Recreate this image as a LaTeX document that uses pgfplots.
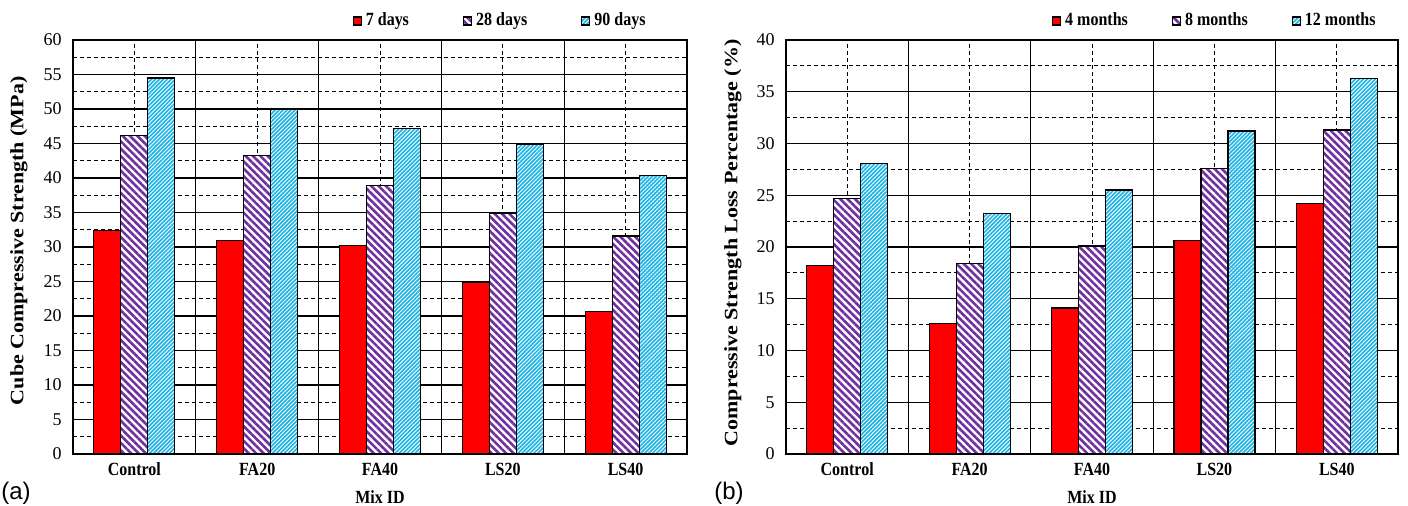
\documentclass[border=0pt]{standalone}
\usepackage{pgfplots}
\pgfplotsset{compat=1.18}
\usepackage{graphicx}
\usepackage{fontspec}
\usetikzlibrary{patterns.meta}
\setmainfont{Liberation Serif}
\newfontfamily\condfont{Liberation Serif}[FakeStretch=0.86]
\newfontfamily\numfont{Liberation Serif}
\newfontfamily\sansfont{Liberation Sans}
\definecolor{barred}{RGB}{255,0,0}
\definecolor{barpurple}{RGB}{112,48,160}
\definecolor{barcyan}{RGB}{30,180,230}
\pgfplotsset{
  sqlegend/.style={legend image code/.code={\draw[##1,/tikz/.cd] (0pt,-2pt) rectangle (4pt,2pt);}},
  mybase/.style={
    scale only axis, width=307pt, height=207pt,
    ybar=0pt, bar width=13.5pt,
    xmin=-0.5, xmax=4.5, ymin=0,
    xtick={0,1,2,3,4},
    xticklabels={Control,FA20,FA40,LS20,LS40},
    minor xtick={-0.5,0.5,1.5,2.5,3.5,4.5},
    minor y tick num=1,
    grid=both,
    major tick length=0pt, minor tick length=0pt,
    major x grid style={black, line width=0.5pt, dash pattern=on 2pt off 1.5pt},
    minor x grid style={black, line width=0.65pt, solid},
    major y grid style={black, line width=0.65pt, solid},
    minor y grid style={black, line width=0.5pt, dash pattern=on 2pt off 1.5pt},
    axis line style={black, line width=0.8pt},
    /pgf/number format/assume math mode=true,
    yticklabel style={font=\numfont\fontsize{9}{10}\selectfont, anchor=east, inner sep=0pt, xshift=-5.5pt},
    xticklabel style={font=\condfont\bfseries\fontsize{9.3}{11}\selectfont, anchor=base, inner sep=0pt, yshift=-11pt},
    xlabel style={font=\condfont\bfseries\fontsize{9.3}{11}\selectfont, at={(rel axis cs:0.5,0)}, anchor=center, yshift=-21.5pt},
    ylabel style={font=\bfseries\fontsize{11}{13}\selectfont, anchor=center},
    xlabel={Mix ID},
    legend columns=3,
    legend style={draw=none, fill=none, inner sep=0pt, at={(rel axis cs:1,1)}, anchor=east, yshift=9.5pt, font=\condfont\bfseries\fontsize{9.3}{11}\selectfont},
  },
  redbar/.style={draw=black, line width=0.6pt, fill=barred, sqlegend},
  purplebar/.style={draw=black, line width=0.6pt, preaction={fill=white}, pattern={Lines[angle=-45,distance=2.6pt,line width=1.3pt]}, pattern color=barpurple, sqlegend},
  cyanbar/.style={draw=black, line width=0.6pt, preaction={fill=barcyan}, pattern={Lines[angle=45,distance=1.4pt,line width=0.45pt]}, pattern color=white, sqlegend},
}
\begin{document}
\begin{tikzpicture}
\path[use as bounding box] (0,0) rectangle (704pt,253pt);
\begin{axis}[mybase, at={(36.5pt,26pt)}, anchor=south west,
  ymax=60, ytick={0,5,...,60},
  ylabel={\scalebox{1}[0.86]{Cube Compressive Strength (MPa)}},
  ylabel style={at={(rel axis cs:-0.088,0.515)}},
  legend style={xshift=-18.5pt, /tikz/every even column/.append style={column sep=25pt}},
]
\addplot[redbar] coordinates {(0,32.4) (1,30.9) (2,30.2) (3,24.9) (4,20.7)};
\addplot[purplebar] coordinates {(0,46.2) (1,43.3) (2,38.9) (3,34.9) (4,31.6)};
\addplot[cyanbar] coordinates {(0,54.5) (1,50.0) (2,47.2) (3,44.9) (4,40.4)};
\legend{7 days, 28 days, 90 days}
\end{axis}
\begin{axis}[mybase, at={(393pt,26pt)}, anchor=south west, width=306pt,
  ymax=40, ytick={0,5,...,40},
  ylabel={\scalebox{1}[0.86]{Compressive Strength Loss Percentage (\%)}},
  ylabel style={at={(rel axis cs:-0.0866,0.51)}},
  legend style={xshift=-9pt, /tikz/every even column/.append style={column sep=20pt}},
]
\addplot[redbar] coordinates {(0,18.2) (1,12.6) (2,14.1) (3,20.6) (4,24.2)};
\addplot[purplebar] coordinates {(0,24.7) (1,18.4) (2,20.1) (3,27.6) (4,31.3)};
\addplot[cyanbar] coordinates {(0,28.1) (1,23.2) (2,25.5) (3,31.2) (4,36.3)};
\legend{4 months, 8 months, 12 months}
\end{axis}
\node[font=\sansfont\fontsize{12}{14}\selectfont, anchor=center] at (8pt,6.5pt) {(a)};
\node[font=\sansfont\fontsize{12}{14}\selectfont, anchor=center] at (364.5pt,6.5pt) {(b)};
\end{tikzpicture}
\end{document}
